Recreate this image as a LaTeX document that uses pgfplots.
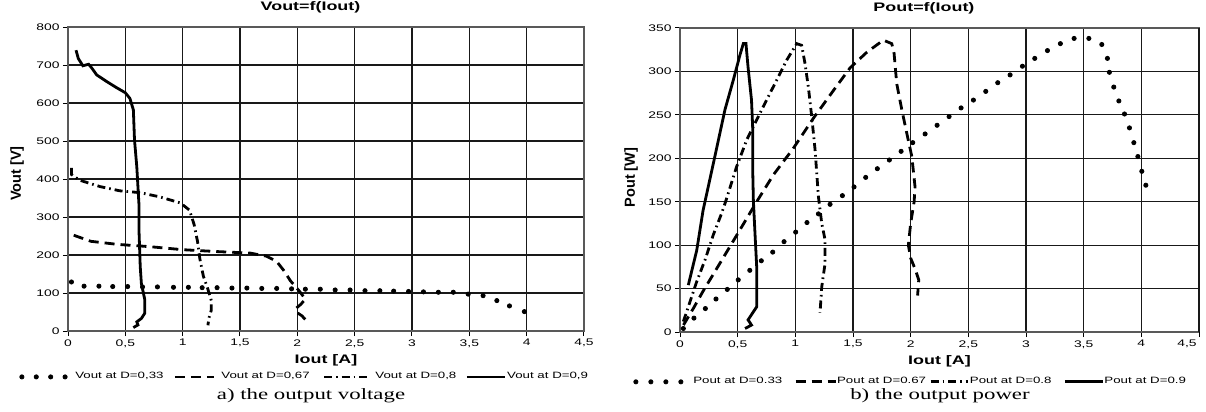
\documentclass[border=0pt]{standalone}
\usepackage{fontspec}
\setmainfont{Liberation Sans}[FakeStretch=1.45]
\newfontfamily\capfont{Liberation Serif}[FakeStretch=1.45]
\newfontfamily\ylabfont{Liberation Sans}
\usepackage{pgfplots}
\pgfplotsset{compat=1.18}

\tikzset{
  lw/.style={line width=1.4bp},
  dashp/.style={dash pattern=on 5bp off 3bp},
  ddp/.style={dash pattern=on 4bp off 2bp on 0.8bp off 2bp},
}
\pgfplotsset{
  mystyle/.style={
    scale only axis,
    xmin=0, xmax=4.5,
    grid=major,
    major grid style={black!90, line width=0.55bp},
    axis line style={black!65, line width=0.8bp},
    tick align=outside, tick pos=left,
    major tick length=2.5bp,
    tick style={black, line width=0.5bp},
    /pgf/number format/assume math mode=true,
    /pgf/number format/use comma,
    /pgf/number format/1000 sep={},
    tick label style={font=\fontsize{4.8}{5.5}\selectfont},
    yticklabel style={inner sep=1.5bp},
    xticklabel style={inner sep=1.5bp},
    title style={at={(axis description cs:0.47,1.014)}, anchor=base, inner sep=0pt, font=\bfseries\fontsize{6.2}{7}\selectfont},
    xlabel style={at={(axis description cs:0.5,-0.108)}, anchor=base, inner sep=0pt, font=\bfseries\fontsize{6.2}{7}\selectfont},
    ylabel style={anchor=center, inner sep=0pt, font=\ylabfont\bfseries\fontsize{7.3}{8}\selectfont},
    legend style={draw=none, fill=none, inner sep=0pt, nodes={inner sep=0pt}, column sep=0pt,
      font=\fontsize{4.6}{5.5}\selectfont, anchor=west},
    legend columns=4,
    legend cell align=left,
  },
}

\begin{document}
\begin{tikzpicture}
\useasboundingbox (0,0) rectangle (603bp,206bp);

% ---------- a) output voltage ----------
\begin{axis}[mystyle,
  at={(34bp,40.5bp)}, anchor=south west,
  width=258bp, height=152bp,
  xtick={0,0.5,1,1.5,2,2.5,3,3.5,4,4.5},
  ymin=0, ymax=800, ytick={0,100,...,800},
  title={Vout=f(Iout)},
  xlabel={Iout [A]},
  ylabel={Vout [V]},
  ylabel style={at={(axis description cs:-0.0985,0.518)}},
  legend style={at={(axis description cs:-0.0950,-0.151)}},
]
\addplot[only marks, mark=*, mark size=1.05bp, black,
  legend image code/.code={\foreach \k in {0,1,2,3}{\fill[black] (\k*7.2bp,0bp) circle (1.05bp);}\path (26.5bp,0bp);}]
coordinates {
(0.03,129) (0.14,118) (0.27,118) (0.39,117) (0.52,117) (0.65,116) (0.78,116) (0.92,115)
(1.05,115) (1.17,114) (1.30,114) (1.43,113) (1.56,113) (1.69,112) (1.82,112) (1.95,111)
(2.07,110) (2.20,110) (2.33,108) (2.46,108) (2.59,106) (2.72,106) (2.84,105) (2.97,104)
(3.10,103) (3.23,102) (3.36,102) (3.49,97) (3.62,93) (3.74,80) (3.85,66) (3.98,51)
};
\addlegendentry{Vout at D=0,33}
\addplot[black, lw, dashp,
  legend image code/.code={\path (-5bp,0bp); \draw[black, lw, dashp] (0bp,0bp) -- (19.5bp,0bp); \path (22.5bp,0bp);}]
coordinates {
(0.05,252) (0.2,236) (0.43,228) (0.71,222) (1.0,214) (1.3,209) (1.59,205) (1.73,197)
(1.82,183) (1.88,160) (1.94,132) (1.99,115) (2.03,100) (2.07,84) (2.03,70) (1.99,60)
(1.99,50) (2.04,40) (2.07,30) (2.06,22)
};
\addlegendentry{Vout at D=0,67}
\addplot[black, lw, ddp,
  legend image code/.code={\path (-6.5bp,0bp); \draw[black, lw, ddp] (0bp,0bp) -- (22.5bp,0bp); \path (25bp,0bp);}]
coordinates {
(0.03,429) (0.03,412) (0.1,397) (0.28,380) (0.45,369) (0.63,364) (0.8,353) (0.98,337)
(1.06,318) (1.10,280) (1.13,235) (1.15,190) (1.18,145) (1.22,110) (1.25,80) (1.25,55)
(1.23,35) (1.22,15)
};
\addlegendentry{Vout at D=0,8}
\addplot[black, lw,
  legend image code/.code={\path (-4.5bp,0bp); \draw[black, lw] (0bp,0bp) -- (19bp,0bp); \path (19.5bp,0bp);}]
coordinates {
(0.07,739) (0.09,717) (0.13,698) (0.18,702) (0.21,691) (0.25,674) (0.34,656) (0.42,641)
(0.50,627) (0.54,612) (0.57,582) (0.58,503) (0.60,432) (0.62,327) (0.62,257) (0.63,169)
(0.64,125) (0.67,82) (0.67,47) (0.64,33) (0.60,24) (0.61,16) (0.57,9)
};
\addlegendentry{Vout at D=0,9}
\end{axis}

% ---------- b) output power ----------
\begin{axis}[mystyle,
  at={(340bp,40bp)}, anchor=south west,
  width=259.5bp, height=152bp,
  xtick={0,0.5,1,1.5,2,2.5,3,3.5,4},
  extra x ticks={4.5},
  extra x tick style={xticklabel style={anchor=north east, xshift=0.5bp}},
  ymin=0, ymax=350, ytick={0,50,...,350},
  title={Pout=f(Iout)},
  xlabel={Iout [A]},
  ylabel={Pout [W]},
  ylabel style={at={(axis description cs:-0.094,0.508)}},
  legend style={at={(axis description cs:-0.0906,-0.164)}},
]
\addplot[only marks, mark=*, mark size=1.05bp, black,
  legend image code/.code={\foreach \k in {0,1,2,3}{\fill[black] (\k*7.5bp,0bp) circle (1.05bp);}\path (28.5bp,0bp);}]
coordinates {
(0.029,4) (0.121,16) (0.220,27) (0.312,38) (0.410,49) (0.505,60) (0.605,71) (0.705,82)
(0.804,92) (0.902,104) (1.003,115) (1.101,126) (1.200,136) (1.301,147) (1.408,157)
(1.509,167) (1.610,178) (1.711,188) (1.815,198) (1.917,208) (2.018,218) (2.125,228)
(2.229,238) (2.333,248) (2.437,258) (2.544,267) (2.651,277) (2.755,287) (2.862,296)
(2.969,306) (3.076,315) (3.186,324) (3.298,332) (3.417,338) (3.545,338) (3.657,331)
(3.706,315) (3.723,299) (3.761,282) (3.805,266) (3.854,251) (3.897,235) (3.935,218)
(3.970,202) (4.004,185) (4.039,169)
};
\addlegendentry{Pout at D=0.33}
\addplot[black, lw, dashp,
  legend image code/.code={\path (-6bp,0bp); \draw[black, lw, dashp] (0bp,0bp) -- (20bp,0bp);}]
coordinates {
(0.03,8) (0.115,27) (0.2,47) (0.35,80) (0.49,111) (0.665,150) (0.81,181) (0.98,211)
(1.156,246) (1.33,278) (1.474,304) (1.619,322) (1.763,336) (1.836,332) (1.856,321)
(1.879,286) (1.923,256) (1.966,229) (2.01,202) (2.038,167) (2.03,150) (2.0,125)
(1.98,100) (2.0,85) (2.04,72) (2.07,60) (2.06,42)
};
\addlegendentry{Pout at D=0.67}
\addplot[black, lw, ddp,
  legend image code/.code={\path (-1.5bp,0bp); \draw[black, lw, ddp] (0bp,0bp) -- (18.5bp,0bp); \path (19bp,0bp);}]
coordinates {
(0.029,12) (0.072,29) (0.145,58) (0.217,83) (0.289,112) (0.362,137) (0.40,152) (0.49,190)
(0.578,221) (0.694,252) (0.838,290) (0.925,313) (1.012,332) (1.055,330) (1.084,309)
(1.113,282) (1.142,248) (1.171,210) (1.2,156) (1.229,125) (1.258,106) (1.258,79)
(1.229,52) (1.214,22)
};
\addlegendentry{Pout at D=0.8}
\addplot[black, lw,
  legend image code/.code={\path (-6bp,0bp); \draw[black, lw] (0bp,0bp) -- (19bp,0bp);}]
coordinates {
(0.072,54) (0.145,94) (0.2,140) (0.289,194) (0.39,256) (0.462,290) (0.52,319) (0.549,332)
(0.572,332) (0.59,305) (0.62,267) (0.63,236) (0.63,190) (0.636,152) (0.65,114) (0.665,75)
(0.665,29) (0.62,20) (0.59,14) (0.62,8) (0.564,4)
};
\addlegendentry{Pout at D=0.9}
\end{axis}

\node[anchor=base, inner sep=0pt, font=\capfont\fontsize{7.9}{9}\selectfont] at (155.5bp,6.5bp) {a) the output voltage};
\node[anchor=base, inner sep=0pt, font=\capfont\fontsize{7.9}{9}\selectfont] at (470bp,6.5bp) {b) the output power};
\end{tikzpicture}
\end{document}
